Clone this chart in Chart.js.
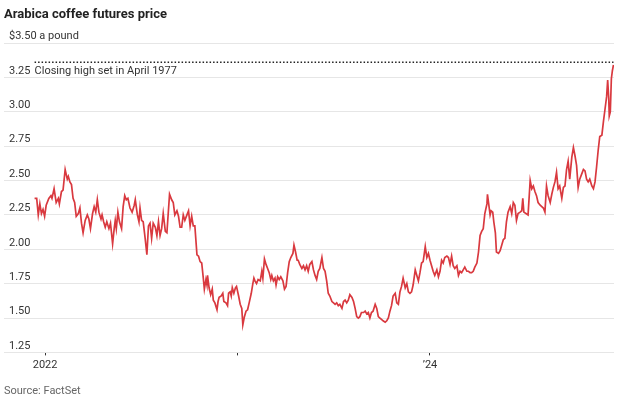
<!DOCTYPE html>
<html>
<head>
<meta charset="utf-8">
<script src="https://cdn.jsdelivr.net/npm/chart.js@4.4.1/dist/chart.umd.min.js"></script>
<style>
  html, body { margin: 0; padding: 0; background: #fff; }
  canvas { display: block; }
</style>
</head>
<body>
<canvas id="coffee_chart" width="624" height="404"></canvas>
<script>
// days counted from 1 Jan 2022, prices in $ a pound
const days = [
  -20, -16, -13, -10, -7, -4, -1, 2, 7, 11, 13, 17, 21, 25, 27, 31, 34, 38, 42, 44,
  47, 50, 53, 56, 59, 63, 66, 69, 72, 76, 80, 83, 86, 90, 93, 96, 99, 102, 106, 108,
  111, 114, 117, 121, 124, 128, 131, 133, 135, 138, 141, 145, 148, 151, 154, 157, 161, 165, 169, 171,
  175, 178,
  180, 183, 186, 190, 193, 196, 199, 202, 205, 209, 212, 215, 218, 221, 224, 228, 231, 236, 240, 243,
  246, 250, 253, 256, 259, 262, 265, 269, 272, 275, 278, 281, 284, 288, 291, 294, 297, 300, 302, 305,
  307, 308, 311, 314, 317, 319, 322, 326, 328, 330, 334, 337, 339, 343, 346, 348, 351, 353, 355, 358,
  361, 363, 367, 370, 373, 375, 378, 381, 384, 387, 391, 394, 396,
  398, 401, 404, 408, 411, 413, 416, 419, 422, 425, 428, 430, 433, 436, 438, 441, 444, 447, 451, 454,
  457, 460, 463, 466, 470, 472, 475, 478, 480, 483, 487, 490, 493, 496, 499, 502, 506, 509, 512, 515,
  518, 521, 525, 528, 531, 534, 537, 540, 544, 547, 550, 553, 556, 559, 563, 566, 569, 572, 575, 578,
  582, 585, 588, 591, 594, 597, 600, 604, 607, 610, 613,
  616, 619, 622, 626, 629, 632, 635, 638, 641, 645, 648, 651, 654, 657, 660, 664, 667, 670, 673, 676,
  679, 683, 686, 689, 692, 695, 698, 702, 705, 708, 711, 714, 717, 721, 724, 727, 730, 733, 736, 739,
  743, 746, 749, 752, 755, 758, 762, 765, 768, 771, 774, 777, 781, 784, 787, 790, 793, 796, 800, 803,
  806, 809, 812, 815, 819, 822, 825, 828, 831, 834, 838, 839, 841, 844, 846, 849, 851, 854, 856, 860,
  863, 866, 869, 872, 875, 878, 882, 885, 888, 891, 894, 897, 901, 904, 906, 908, 912, 916, 920, 923,
  926, 929, 932, 935, 939, 942, 945, 948, 951, 954, 958, 961, 964, 967, 970, 973, 976, 980, 983, 986,
  989, 992, 995, 999, 1002, 1005, 1008, 1011, 1014, 1018, 1021, 1024, 1027, 1030, 1033, 1037, 1040, 1043, 1046, 1049,
  1052, 1056, 1059, 1062, 1065, 1067, 1069, 1070, 1072, 1074, 1076, 1078
];

const prices = [
  2.37, 2.37, 2.25, 2.33, 2.26, 2.29, 2.24, 2.32, 2.37, 2.39, 2.37, 2.44, 2.34, 2.37, 2.33, 2.42, 2.43, 2.58, 2.51, 2.53,
  2.49, 2.47, 2.37, 2.34, 2.24, 2.26, 2.30, 2.19, 2.12, 2.21, 2.25, 2.22, 2.15, 2.26, 2.31, 2.27, 2.36, 2.27, 2.22, 2.25,
  2.20, 2.16, 2.20, 2.15, 2.19, 2.04, 2.15, 2.21, 2.15, 2.27, 2.20, 2.15, 2.31, 2.39, 2.36, 2.37, 2.30, 2.27, 2.32, 2.36,
  2.25, 2.20,
  2.30, 2.21, 2.20, 2.07, 1.96, 2.17, 2.19, 2.08, 2.19, 2.16, 2.10, 2.20, 2.10, 2.15, 2.26, 2.13, 2.12, 2.40, 2.36, 2.34,
  2.25, 2.28, 2.24, 2.16, 2.16, 2.25, 2.21, 2.25, 2.28, 2.17, 2.24, 2.17, 2.17, 1.96, 1.95, 1.91, 1.90, 1.79, 1.71, 1.78,
  1.74, 1.81, 1.72, 1.67, 1.71, 1.63, 1.61, 1.56, 1.62, 1.65, 1.66, 1.68, 1.62, 1.61, 1.59, 1.68, 1.69, 1.66, 1.72, 1.68,
  1.72, 1.73, 1.66, 1.60, 1.57, 1.45, 1.51, 1.55, 1.56, 1.61, 1.68, 1.75, 1.79,
  1.77, 1.75, 1.78, 1.77, 1.84, 1.79, 1.93, 1.89, 1.86, 1.83, 1.78, 1.81, 1.77, 1.79, 1.74, 1.80, 1.78, 1.80, 1.77, 1.71,
  1.73, 1.83, 1.91, 1.94, 1.97, 2.03, 1.98, 1.92, 1.92, 1.89, 1.86, 1.88, 1.85, 1.88, 1.84, 1.89, 1.91, 1.85, 1.81, 1.78,
  1.84, 1.86, 1.94, 1.86, 1.84, 1.77, 1.68, 1.66, 1.62, 1.61, 1.60, 1.61, 1.59, 1.60, 1.57, 1.62, 1.63, 1.61, 1.63, 1.67,
  1.65, 1.62, 1.57, 1.51, 1.50, 1.51, 1.54, 1.54, 1.55, 1.53, 1.54,
  1.50, 1.54, 1.55, 1.60, 1.57, 1.51, 1.50, 1.49, 1.48, 1.47, 1.48, 1.50, 1.55, 1.59, 1.66, 1.68, 1.61, 1.60, 1.69, 1.73,
  1.79, 1.72, 1.75, 1.69, 1.68, 1.69, 1.74, 1.85, 1.81, 1.77, 1.83, 1.90, 1.91, 2.02, 1.94, 1.97, 1.92, 1.88, 1.84, 1.81,
  1.85, 1.80, 1.84, 1.92, 1.90, 1.94, 1.95, 1.94, 1.89, 1.95, 1.88, 1.86, 1.88, 1.81, 1.84, 1.83, 1.85, 1.87, 1.84, 1.84,
  1.83, 1.83, 1.84, 1.87, 1.90, 1.98, 2.10, 2.13, 2.15, 2.26, 2.33, 2.40, 2.34, 2.25, 2.28, 2.27, 2.20, 2.12, 1.98, 1.97,
  1.99, 2.03, 2.07, 2.08, 2.20, 2.27, 2.31, 2.26, 2.34, 2.32, 2.21, 2.26, 2.27, 2.28, 2.37, 2.27, 2.26, 2.25, 2.50, 2.44,
  2.46, 2.42, 2.39, 2.34, 2.32, 2.31, 2.30, 2.27, 2.46, 2.39, 2.34, 2.40, 2.45, 2.49, 2.56, 2.44, 2.46, 2.37, 2.45, 2.46,
  2.58, 2.64, 2.51, 2.67, 2.74, 2.68, 2.61, 2.45, 2.51, 2.55, 2.58, 2.57, 2.51, 2.49, 2.51, 2.46, 2.44, 2.49, 2.60, 2.72,
  2.82, 2.83, 2.93, 3.02, 3.11, 3.23, 3.10, 2.97, 3.00, 3.24, 3.30, 3.34
];

// closing high set in April 1977
let record_high = 3.36;
let record_label = "Closing high set in April 1977";

let x_ticks = [0, 365, 730];
let x_labels = ["2022", "", "\u201924"];
let y_ticks = [1.25, 1.50, 1.75, 2.00, 2.25, 2.50, 2.75, 3.00, 3.25, 3.50];

const font_family = "Roboto, 'Liberation Sans', sans-serif";

// writes the record label next to the 3.25 tick
const record_note = {
  id: 'record_note',
  afterDraw(chart) {
    const x = chart.scales.x.getPixelForValue(days[0]);
    const y = chart.scales.y.getPixelForValue(3.25) - 6.5;
    const c = chart.ctx;
    c.save();
    c.font = "11px " + font_family;
    c.fillStyle = '#333';
    c.textAlign = 'left';
    c.textBaseline = 'middle';
    c.fillText(record_label, x, y);
    c.restore();
  }
};

const ctx = document.getElementById('coffee_chart').getContext('2d');

const chart = new Chart(ctx, {
  type: 'line',
  data: {
    datasets: [{
      label: 'Arabica',
      data: days.map((d, i) => ({ x: d, y: prices[i] })),
      borderColor: '#d9393f',
      borderWidth: 1.7,
      pointRadius: 0,
      tension: 0
    }, {
      label: 'Record',
      data: [{ x: days[0], y: record_high }, { x: days[days.length - 1], y: record_high }],
      borderColor: '#222',
      borderWidth: 1.5,
      borderDash: [1.5, 2],
      pointRadius: 0
    }]
  },
  options: {
    responsive: false,
    animation: false,
    layout: { padding: { left: 4, right: 10 } },
    plugins: {
      legend: { display: false },
      tooltip: { enabled: false },
      title: {
        display: true,
        text: 'Arabica coffee futures price',
        align: 'start',
        color: '#222',
        font: { family: font_family, size: 13, weight: 'bold' },
        padding: { top: 7, bottom: 20.4 }
      },
      subtitle: {
        display: true,
        position: 'bottom',
        text: 'Source: FactSet',
        align: 'start',
        color: '#666',
        font: { family: font_family, size: 11 },
        padding: { top: 10.2, bottom: 6 }
      }
    },
    scales: {
      x: {
        type: 'linear',
        min: -78,
        max: 1079,
        afterBuildTicks: axis => { axis.ticks = x_ticks.map(v => ({ value: v })); },
        ticks: {
          autoSkip: false,
          maxRotation: 0,
          padding: 3,
          color: '#333',
          font: { family: font_family, size: 11 },
          callback: (v, i) => x_labels[i]
        },
        grid: { drawOnChartArea: false, drawTicks: true, tickLength: 3, color: '#333' },
        border: { display: false }
      },
      y: {
        min: 1.25,
        max: 3.5,
        afterBuildTicks: axis => { axis.ticks = y_ticks.map(v => ({ value: v })); },
        afterFit: axis => { axis.width = 0; },
        ticks: {
          mirror: true,
          padding: 5,
          labelOffset: -6.5,
          color: '#333',
          font: { family: font_family, size: 11 },
          callback: v => v === 3.5 ? '$3.50 a pound' : v.toFixed(2)
        },
        grid: { color: '#e6e6e6', drawTicks: false },
        border: { display: false }
      }
    }
  },
  plugins: [record_note]
});
</script>
</body>
</html>
